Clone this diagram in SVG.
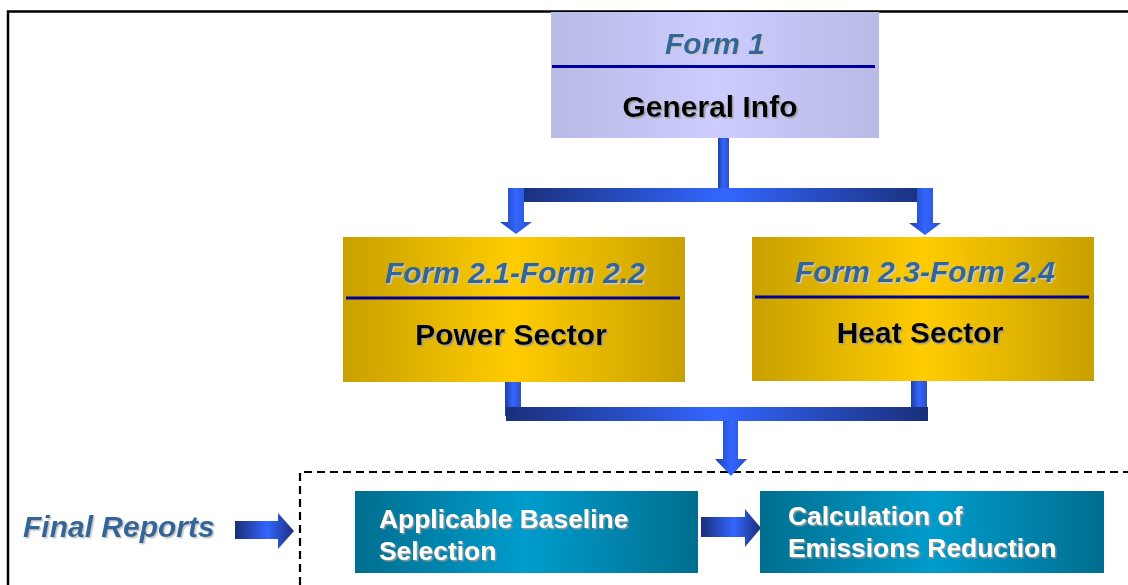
<svg xmlns="http://www.w3.org/2000/svg" width="1128" height="585" viewBox="0 0 1128 585">
<defs>
<linearGradient id="lavGrad" x1="0" y1="0" x2="1" y2="0"><stop offset="0" stop-color="#babae6"/><stop offset="0.5" stop-color="#ccccff"/><stop offset="1" stop-color="#babae6"/></linearGradient>
<linearGradient id="goldGrad" x1="0" y1="0" x2="1" y2="0"><stop offset="0" stop-color="#c8a000"/><stop offset="0.5" stop-color="#ffcc00"/><stop offset="1" stop-color="#c8a000"/></linearGradient>
<linearGradient id="tealGrad" x1="0" y1="0" x2="1" y2="0"><stop offset="0" stop-color="#006e8f"/><stop offset="0.5" stop-color="#009ccc"/><stop offset="1" stop-color="#006e8f"/></linearGradient>
<linearGradient id="barGrad" x1="0" y1="0" x2="1" y2="0"><stop offset="0" stop-color="#1a2f7a"/><stop offset="0.5" stop-color="#3366ff"/><stop offset="1" stop-color="#1a2f7a"/></linearGradient>
<linearGradient id="shaftGrad" x1="0" y1="0" x2="1" y2="0"><stop offset="0" stop-color="#1f3fa8"/><stop offset="0.5" stop-color="#3366ff"/><stop offset="1" stop-color="#2a4fc8"/></linearGradient>
<linearGradient id="rightGrad" x1="0" y1="0" x2="1" y2="0"><stop offset="0" stop-color="#1a2f7a"/><stop offset="0.55" stop-color="#3366ff"/><stop offset="1" stop-color="#1a2f7a"/></linearGradient>
<filter id="shadow" x="-5%" y="-20%" width="110%" height="140%"><feDropShadow dx="1.5" dy="1.5" stdDeviation="0.6" flood-color="#9a9a9a" flood-opacity="0.9"/></filter>
<filter id="shadowLight" x="-5%" y="-20%" width="110%" height="140%"><feDropShadow dx="1.5" dy="1.5" stdDeviation="0.6" flood-color="#c8c8c8" flood-opacity="1"/></filter>
</defs>
<style>
text{font-family:"Liberation Sans",Arial,sans-serif;font-weight:bold}
.form{font-size:30px;font-style:italic;fill:#336699;text-anchor:middle;filter:url(#shadowLight)}
.title{font-size:30px;fill:#000000;text-anchor:middle;filter:url(#shadow)}
.white{font-size:26.4px;fill:#ffffff;filter:url(#shadow)}
.div{stroke:#000099;stroke-width:3}
</style>
<rect width="1128" height="585" fill="#ffffff"/>
<path d="M8,585 V11.5 H1128" fill="none" stroke="#000000" stroke-width="2.5"/>
<path d="M300,585 V472 H1128" fill="none" stroke="#000000" stroke-width="2.2" stroke-dasharray="8 5"/>

<g id="connectors">
<rect x="718" y="135" width="11" height="55" fill="url(#shaftGrad)"/>
<rect x="516" y="188" width="414" height="14" fill="url(#barGrad)"/>
<path d="M508,188 H524 V222 H532 L516,234 L500,222 H508 Z" fill="url(#shaftGrad)"/>
<path d="M917,188 H933 V223 H941 L925,235 L909,223 H917 Z" fill="url(#shaftGrad)"/>
<rect x="505" y="380" width="16" height="36" fill="url(#shaftGrad)"/>
<rect x="911" y="380" width="16" height="36" fill="url(#shaftGrad)"/>
<rect x="506" y="407" width="422" height="14" fill="url(#barGrad)"/>
<path d="M723,421 H738 V459 H747 L731,476 L715,459 H723 Z" fill="url(#shaftGrad)"/>
<path d="M235,521 H278 V513 L294,531 L278,549 V539 H235 Z" fill="url(#rightGrad)"/>
<path d="M701,517 H745 V509 L761,528 L745,547 V537 H701 Z" fill="url(#rightGrad)"/>
</g>

<g id="form1">
<rect x="551" y="12" width="328" height="126" fill="url(#lavGrad)"/>
<line x1="552" y1="66.5" x2="875" y2="66.5" class="div"/>
<text x="715" y="54" class="form">Form 1</text>
<text x="710" y="117" class="title">General Info</text>
</g>

<g id="power">
<rect x="343" y="237" width="342" height="145" fill="url(#goldGrad)"/>
<line x1="346" y1="298" x2="680" y2="298" class="div"/>
<text x="515" y="283" class="form">Form 2.1-Form 2.2</text>
<text x="511" y="345" class="title">Power Sector</text>
</g>

<g id="heat">
<rect x="752" y="237" width="342" height="144" fill="url(#goldGrad)"/>
<line x1="755" y1="297" x2="1089" y2="297" class="div"/>
<text x="925" y="282" class="form">Form 2.3-Form 2.4</text>
<text x="920" y="343" class="title">Heat Sector</text>
</g>

<g id="final">
<text x="23" y="537" class="form" style="text-anchor:start">Final Reports</text>
</g>

<g id="baseline">
<rect x="355" y="491" width="343" height="82" fill="url(#tealGrad)"/>
<text x="379" y="528" class="white">Applicable Baseline</text>
<text x="379" y="560" class="white">Selection</text>
</g>

<g id="calc">
<rect x="760" y="491" width="344" height="82" fill="url(#tealGrad)"/>
<text x="788" y="525" class="white">Calculation of</text>
<text x="788" y="557" class="white">Emissions Reduction</text>
</g>
</svg>
